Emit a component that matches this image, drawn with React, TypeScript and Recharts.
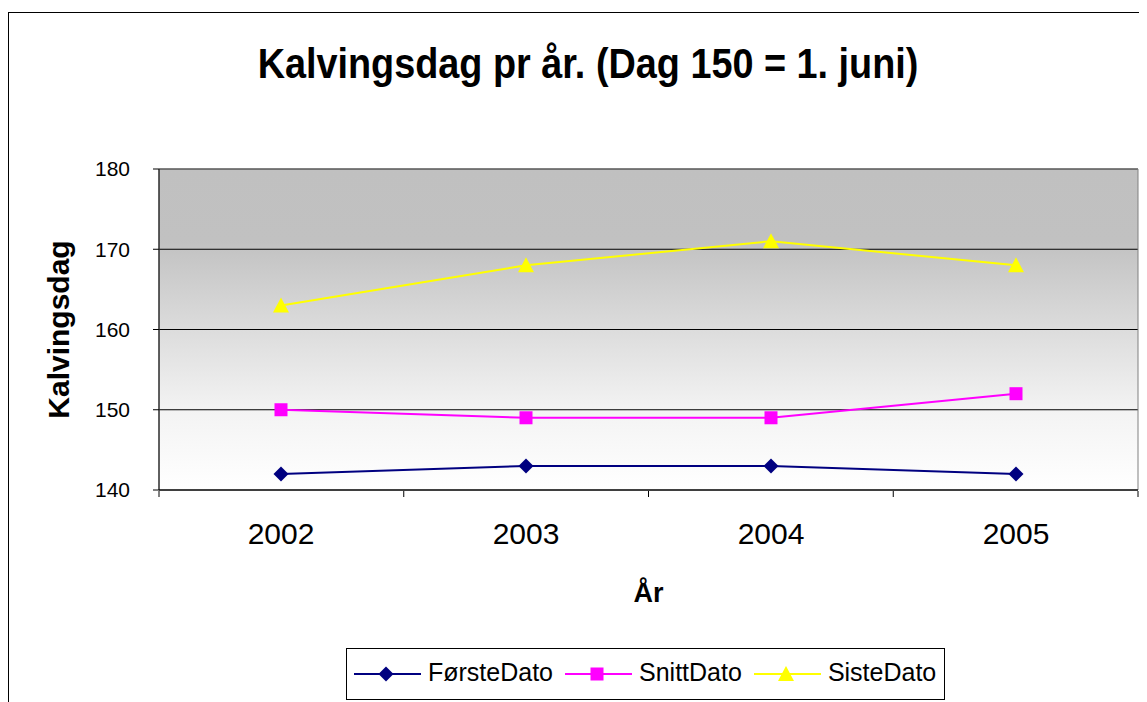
import React from 'react';
import { LineChart, Line, XAxis, YAxis, CartesianGrid, ReferenceArea, Label } from 'recharts';

const years = ['2002', '2003', '2004', '2005'];
const forsteDato = [142, 143, 143, 142];
const snittDato = [150, 149, 149, 152];
const sisteDato = [163, 168, 171, 168];
const yTicks = [140, 150, 160, 170, 180];
const edgeTicks = [-0.5, 0.5, 1.5, 2.5, 3.5];
const seriesNames = ['FørsteDato', 'SnittDato', 'SisteDato'];
const seriesColors = ['#000080', '#FF00FF', '#FFFF00'];
const titleText = 'Kalvingsdag pr år. (Dag 150 = 1. juni)';
const yTitle = 'Kalvingsdag';
const xTitle = 'År';

const data = years.map((y, i) => ({
  year: y,
  pos: i,
  forste: forsteDato[i],
  snitt: snittDato[i],
  siste: sisteDato[i],
}));

const FONT = '"Liberation Sans", Arial, sans-serif';

type MP = { cx: number; cy: number; fill: string };
const Diamond = ({ cx, cy, fill }: MP) => {
  const r = 7.5;
  return <path d={`M${cx},${cy - r}L${cx + r},${cy}L${cx},${cy + r}L${cx - r},${cy}Z`} fill={fill} />;
};
const Square = ({ cx, cy, fill }: MP) => <rect x={cx - 6.5} y={cy - 6.5} width={13} height={13} fill={fill} />;
const Triangle = ({ cx, cy, fill }: MP) => (
  <path d={`M${cx},${cy - 8}L${cx + 8},${cy + 7}L${cx - 8},${cy + 7}Z`} fill={fill} />
);
const markers = [Diamond, Square, Triangle];
const keys = ['forste', 'snitt', 'siste'];

const makeDot = (idx: number) => (p: any) => {
  const M = markers[idx];
  if (p.cx == null || p.cy == null) return <g key={`e-${idx}-${p.index}`} />;
  return (
    <g key={`m-${idx}-${p.index}`}>
      <M cx={p.cx} cy={p.cy} fill={seriesColors[idx]} />
    </g>
  );
};

const EmptyTick = () => <g />;

const LegendBox = () => (
  <div
    style={{
      position: 'absolute',
      left: 337,
      top: 635,
      width: 599,
      height: 52,
      boxSizing: 'border-box',
      border: '1px solid #000',
      background: '#fff',
      display: 'flex',
      alignItems: 'center',
      paddingLeft: 7,
      fontFamily: FONT,
      fontSize: 25,
      color: '#000',
    }}
  >
    {seriesNames.map((name, i) => {
      const M = markers[i];
      return (
        <div key={name} style={{ display: 'flex', alignItems: 'center', marginRight: 12 }}>
          <svg width={67} height={20}>
            <line x1={0} y1={10} x2={67} y2={10} stroke={seriesColors[i]} strokeWidth={2} />
            <M cx={32} cy={10} fill={seriesColors[i]} />
          </svg>
          <span style={{ marginLeft: 7, position: 'relative', top: -2, whiteSpace: 'nowrap' }}>{name}</span>
        </div>
      );
    })}
  </div>
);

export default function App() {
  return (
    <div
      style={{
        position: 'relative',
        top: 4,
        width: 1133,
        height: 700,
        boxSizing: 'border-box',
        border: '1px solid #000',
        background: '#fff',
        fontFamily: FONT,
      }}
    >
      <svg width={0} height={0} style={{ position: 'absolute' }}>
        <defs>
          <linearGradient id="plotBg" x1="0" y1="0" x2="0" y2="1">
            <stop offset="0" stopColor="#c0c0c0" />
            <stop offset="0.22" stopColor="#c1c1c1" />
            <stop offset="0.5" stopColor="#dcdcdc" />
            <stop offset="0.75" stopColor="#f3f3f3" />
            <stop offset="1" stopColor="#ffffff" />
          </linearGradient>
        </defs>
      </svg>
      <div
        style={{
          position: 'absolute',
          left: 578.5,
          top: 30,
          fontSize: 42,
          lineHeight: '42px',
          fontWeight: 'bold',
          whiteSpace: 'nowrap',
          transform: 'translateX(-50%) scaleX(0.9)',
          color: '#000',
        }}
      >
        {titleText}
      </div>
      <div style={{ position: 'absolute', left: 0, top: 0 }}>
        <LineChart
          width={1131}
          height={698}
          data={data}
          margin={{ top: 156, right: 2, bottom: 100, left: 0 }}
          style={{ fontFamily: FONT }}
        >
          <CartesianGrid vertical={false} stroke="#000" fill="url(#plotBg)" fillOpacity={1} />
          <XAxis
            dataKey="year"
            height={1}
            padding={{ left: 122, right: 122 }}
            tickLine={false}
            tickSize={0}
            tickMargin={33}
            axisLine={{ stroke: '#000' }}
            tick={{ fill: '#000', fontSize: 30 }}
          />
          <XAxis
            xAxisId="edges"
            dataKey="pos"
            type="number"
            domain={[edgeTicks[0], edgeTicks[edgeTicks.length - 1]]}
            ticks={edgeTicks}
            interval={0}
            height={120}
            tick={EmptyTick}
            tickSize={6}
            axisLine={false}
            tickLine={{ stroke: '#000' }}
            allowDataOverflow
          >
            <Label
              value={xTitle}
              position="insideBottom"
              offset={9}
              style={{ fontSize: 27, fontWeight: 'bold', fill: '#000' }}
            />
          </XAxis>
          <ReferenceArea
            xAxisId="edges"
            x1={edgeTicks[0]}
            x2={edgeTicks[edgeTicks.length - 1]}
            y1={140}
            y2={180}
            fill="none"
            stroke="#808080"
            strokeWidth={1}
            ifOverflow="visible"
          />
          <YAxis
            domain={[140, 180]}
            ticks={yTicks}
            width={150}
            tickSize={6}
            tickMargin={23}
            tickLine={{ stroke: '#000' }}
            axisLine={{ stroke: '#000' }}
            tick={{ fill: '#000', fontSize: 21 }}
          >
            <Label
              value={yTitle}
              angle={-90}
              position="insideLeft"
              offset={49}
              style={{ textAnchor: 'middle', fontSize: 30, fontWeight: 'bold', fill: '#000' }}
            />
          </YAxis>
          {keys.map((k, i) => (
            <Line
              key={k}
              dataKey={k}
              name={seriesNames[i]}
              type="linear"
              stroke={seriesColors[i]}
              strokeWidth={2}
              dot={makeDot(i)}
              activeDot={false}
              isAnimationActive={false}
            />
          ))}
        </LineChart>
      </div>
      <LegendBox />
    </div>
  );
}
